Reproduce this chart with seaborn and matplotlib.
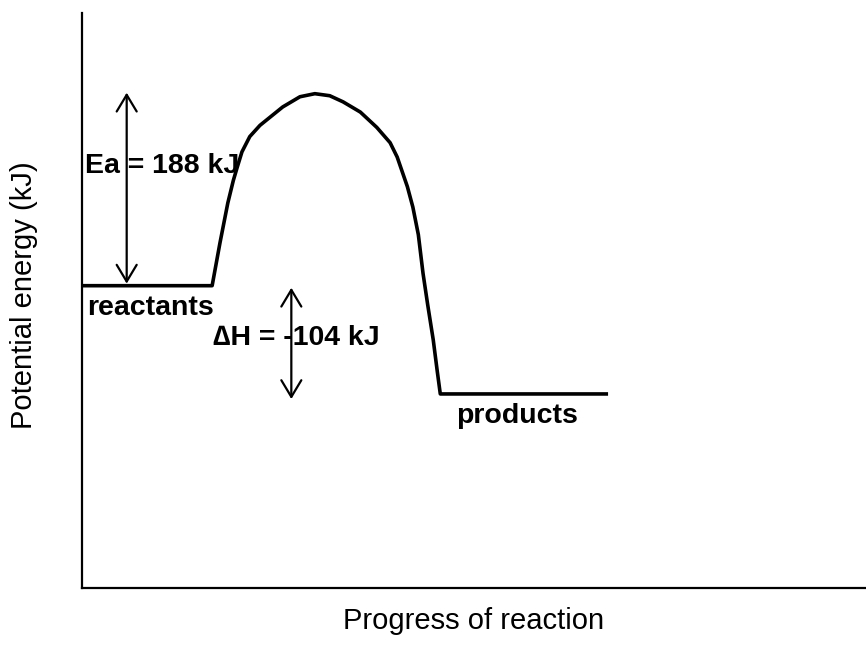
import numpy as np
import pandas as pd
import matplotlib
matplotlib.use('Agg')
import matplotlib.pyplot as plt
import seaborn as sns

# energy profile (progress 0-100, energy in kJ)
progress = [0, 16.6, 17.6, 18.6, 19.3, 19.8, 20.4, 21.4, 22.7, 25.6, 27.8, 29.7,
            31.6, 33.3, 35.5, 37.6, 39.3, 40.2, 41.5, 42.2, 42.9, 43.5, 44.1,
            44.8, 45.3, 45.7, 67.1]
energy = [296, 296, 338, 377, 399, 412, 427, 442, 453, 471, 481, 484,
          482, 476, 466, 451, 436, 422, 393, 373, 346, 308, 277,
          243, 213, 190, 190]

reactants = 296
peak = 484
products = 190
ea_label = 'Ea = 188 kJ'
dh_label = '\u2206H = -104 kJ'

sns.set_theme(style='white')
plt.rcParams['font.family'] = ['Liberation Sans', 'DejaVu Sans']

df = pd.DataFrame({'progress': progress, 'energy': energy})

fig = plt.figure(figsize=(8.66, 6.48), dpi=100)
ax = fig.add_axes([82 / 866, 60 / 648, 784 / 866, 575 / 648])

sns.lineplot(data=df, x='progress', y='energy', sort=False, color='black',
             linewidth=2.6, ax=ax)
for line in ax.lines:
    line.set_solid_joinstyle('round')
    line.set_solid_capstyle('butt')

ax.set_xlim(0, 100)
ax.set_ylim(0, 563)

arrow = dict(arrowstyle='<->,head_length=0.6,head_width=0.36', color='black',
             lw=1.6, shrinkA=0, shrinkB=0, mutation_scale=20)
ax.annotate('', xy=(5.7, reactants + 2), xytext=(5.7, peak + 1), arrowprops=arrow)
ax.annotate('', xy=(26.7, reactants - 2), xytext=(26.7, products - 5), arrowprops=arrow)

bold = dict(fontsize=20.5, fontweight='bold', color='black', va='baseline', ha='left')
ax.text(0.4, 406, ea_label, **bold)
ax.text(0.7, 267, 'reactants', **bold)
ax.text(16.7, 238, dh_label, **bold)
ax.text(47.7, 162, 'products', **bold)

ax.set_xlabel('Progress of reaction', fontsize=21, color='black')
ax.set_ylabel('Potential energy (kJ)', fontsize=21, color='black')
ax.xaxis.set_label_coords(0.5, -0.033)
ax.yaxis.set_label_coords(-0.056, 0.51)

ax.set_xticks([])
ax.set_yticks([])
sns.despine(ax=ax)
for side in ['left', 'bottom']:
    ax.spines[side].set_color('black')
    ax.spines[side].set_linewidth(1.6)

fig.savefig('out.png', dpi=100)
